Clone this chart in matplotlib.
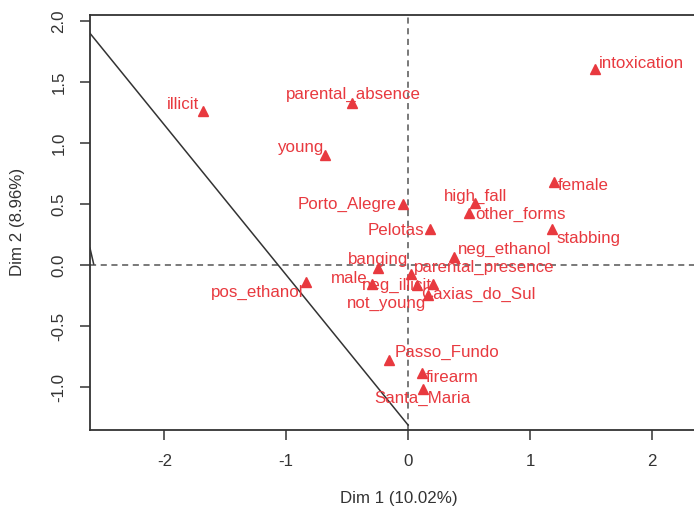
import matplotlib
matplotlib.use("Agg")
import matplotlib.pyplot as plt

plt.rcParams['font.family'] = ['Liberation Sans', 'DejaVu Sans']

# MCA category coordinates
categories = ["illicit", "parental_absence", "young", "intoxication", "female",
              "high_fall", "other_forms", "Porto_Alegre", "Pelotas", "stabbing",
              "neg_ethanol", "banging", "parental_presence", "male", "neg_illicit",
              "not_young", "Caxias_do_Sul", "pos_ethanol", "Passo_Fundo", "firearm",
              "Santa_Maria"]
dim1 = [-1.68, -0.46, -0.68, 1.53, 1.20,
        0.55, 0.50, -0.04, 0.18, 1.18,
        0.38, -0.25, 0.02, -0.30, 0.20,
        0.07, 0.16, -0.84, -0.16, 0.11,
        0.12]
dim2 = [1.26, 1.33, 0.90, 1.61, 0.68,
        0.51, 0.43, 0.50, 0.30, 0.30,
        0.07, -0.02, -0.07, -0.15, -0.15,
        -0.16, -0.24, -0.14, -0.78, -0.88,
        -1.01]

# Separating line segments (Dim 1, Dim 2 endpoints)
seg_main_x = [-2.61, 0.0]
seg_main_y = [1.90, -1.31]
seg_short_x = [-2.61, -2.58]
seg_short_y = [0.14, 0.01]

xlabel = "Dim 1 (10.02%)"
ylabel = "Dim 2 (8.96%)"

# label placement (pixel offsets from each point)
label_offsets = {
    "illicit": (-20, 7), "parental_absence": (1, 8), "young": (-25, 8),
    "intoxication": (47, 5), "female": (29, -3), "high_fall": (0, 7),
    "other_forms": (51, -2), "Porto_Alegre": (-56, 0), "Pelotas": (-34, -2),
    "stabbing": (37, -10), "neg_ethanol": (50, 7), "banging": (0, 8),
    "parental_presence": (74, 6), "male": (-22, 5), "neg_illicit": (-36, -2),
    "not_young": (-30, -19), "Caxias_do_Sul": (51, 0), "pos_ethanol": (-49, -10),
    "Passo_Fundo": (58, 8), "firearm": (31, -5), "Santa_Maria": (0, -10),
}

red = "#E8393F"
dark = "#333333"
fs = 12.2

fig = plt.figure(figsize=(6.94, 5.14), dpi=100)
ax = fig.add_axes([90 / 694, 1 - 430 / 514, 618 / 694, 415 / 514])

ax.set_xlim(-2.61, 2.46)
ax.set_ylim(-1.35, 2.05)

ax.axhline(0, color="#555555", lw=1.1, ls=(0, (4, 3)), zorder=1)
ax.axvline(0, color="#555555", lw=1.1, ls=(0, (4, 3)), zorder=1)

ax.plot(seg_main_x, seg_main_y, color=dark, lw=1.1, zorder=2)
ax.plot(seg_short_x, seg_short_y, color=dark, lw=1.1, zorder=2)

ax.plot(dim1, dim2, ls="none", marker="^", ms=7.2, color=red, mec=red, zorder=3)

for name, x, y in zip(categories, dim1, dim2):
    dx, dy = label_offsets[name]
    ax.annotate(name, (x, y), xytext=(dx, dy), textcoords="offset pixels",
                ha="center", va="center", color=red, fontsize=fs, zorder=4)

ax.set_xticks([-2, -1, 0, 1, 2])
ax.set_xticklabels(["-2", "-1", "0", "1", "2"])
ax.set_yticks([-1.0, -0.5, 0.0, 0.5, 1.0, 1.5, 2.0])
ax.set_yticklabels(["-1.0", "-0.5", "0.0", "0.5", "1.0", "1.5", "2.0"],
                   rotation=90, va="center")

ax.tick_params(axis="both", direction="out", length=7, width=1.1,
               color=dark, labelcolor=dark, labelsize=fs, pad=10)
for s in ax.spines.values():
    s.set_color(dark)
    s.set_linewidth(1.3)

fig.text(399 / 694, 1 - 498 / 514, xlabel, ha="center", va="center",
         fontsize=fs, color=dark)
fig.text(18 / 694, 1 - 222 / 514, ylabel, ha="center", va="center",
         rotation=90, fontsize=fs, color=dark)

fig.savefig("out.png", dpi=100)
